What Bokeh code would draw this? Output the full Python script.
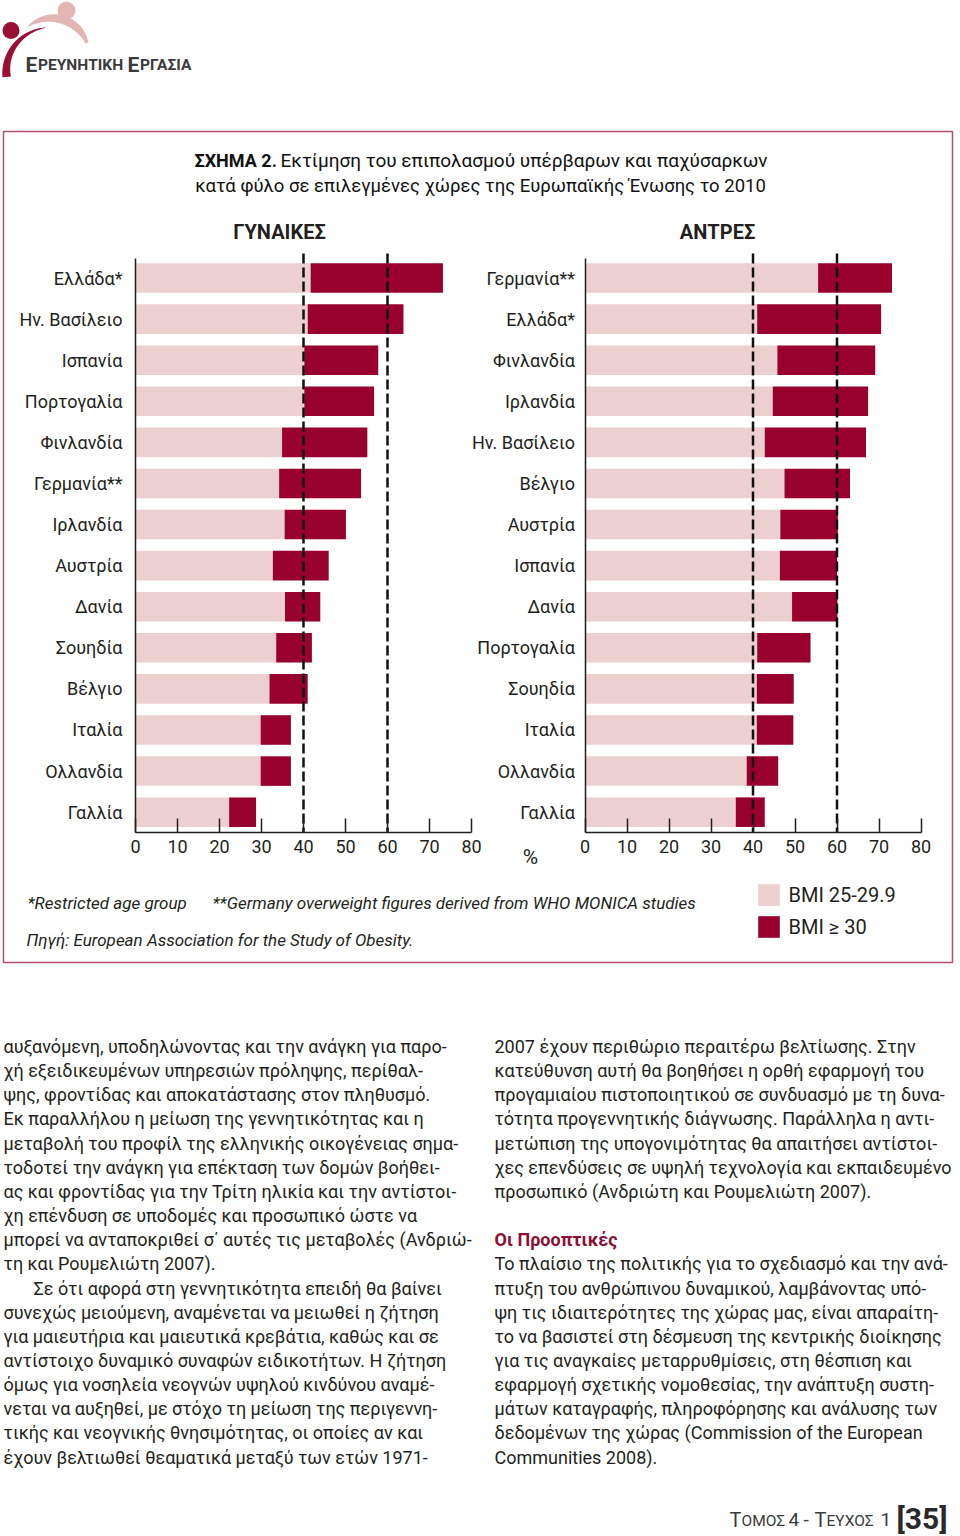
import numpy as np
from bokeh.plotting import figure
from bokeh.models import (Range1d, LinearAxis, FixedTicker, ColumnDataSource,
                          Legend, LegendItem)
from bokeh.core.properties import value
from bokeh.embed import file_html
from bokeh.resources import INLINE

# ---------------- data ----------------
women_countries = ["Ελλάδα*", "Ην. Βασίλειο", "Ισπανία", "Πορτογαλία", "Φινλανδία",
                   "Γερμανία**", "Ιρλανδία", "Αυστρία", "Δανία", "Σουηδία",
                   "Βέλγιο", "Ιταλία", "Ολλανδία", "Γαλλία"]
women_overweight = [41.7, 41.0, 40.2, 40.2, 34.9, 34.2, 35.5, 32.7, 35.6, 33.5, 31.9, 29.8, 29.8, 22.3]
women_obese = [31.5, 22.8, 17.6, 16.6, 20.3, 19.5, 14.6, 13.3, 8.4, 8.5, 9.1, 7.2, 7.2, 6.4]

men_countries = ["Γερμανία**", "Ελλάδα*", "Φινλανδία", "Ιρλανδία", "Ην. Βασίλειο",
                 "Βέλγιο", "Αυστρία", "Ισπανία", "Δανία", "Πορτογαλία",
                 "Σουηδία", "Ιταλία", "Ολλανδία", "Γαλλία"]
men_overweight = [55.5, 41.0, 45.8, 44.7, 42.8, 47.5, 46.5, 46.4, 49.3, 41.0, 40.9, 40.9, 38.5, 35.9]
men_obese = [17.6, 29.5, 23.3, 22.7, 24.1, 15.6, 13.7, 13.6, 10.8, 12.7, 8.8, 8.7, 7.5, 6.9]

x_ticks = [0, 10, 20, 30, 40, 50, 60, 70, 80]
ref_lines = [40, 60]
bmi_labels = ["BMI 25-29.9", "BMI \u2265 30"]
panel_titles = ["ΓΥΝΑΙΚΕΣ", "ΑΝΤΡΕΣ"]

title_bold = "ΣΧΗΜΑ 2."
title_line1 = "Εκτίμηση του επιπολασμού υπέρβαρων και παχύσαρκων"
title_line2 = "κατά φύλο σε επιλεγμένες χώρες της Ευρωπαϊκής Ένωσης το 2010"
note1 = "*Restricted age group"
note2 = "**Germany overweight figures derived from WHO MONICA studies"
source_note = "Πηγή: European Association for the Study of Obesity."

left_col = [
    "αυξανόμενη, υποδηλώνοντας και την ανάγκη για παρο-",
    "χή εξειδικευμένων υπηρεσιών πρόληψης, περίθαλ-",
    "ψης, φροντίδας και αποκατάστασης στον πληθυσμό.",
    "Εκ παραλλήλου η μείωση της γεννητικότητας και η",
    "μεταβολή του προφίλ της ελληνικής οικογένειας σημα-",
    "τοδοτεί την ανάγκη για επέκταση των δομών βοήθει-",
    "ας και φροντίδας για την Τρίτη ηλικία και την αντίστοι-",
    "χη επένδυση σε υποδομές και προσωπικό ώστε να",
    "μπορεί να ανταποκριθεί σ΄ αυτές τις μεταβολές (Ανδριώ-",
    "τη και Ρουμελιώτη 2007).",
    "Σε ότι αφορά στη γεννητικότητα επειδή θα βαίνει",
    "συνεχώς μειούμενη, αναμένεται να μειωθεί η ζήτηση",
    "για μαιευτήρια και μαιευτικά κρεβάτια, καθώς και σε",
    "αντίστοιχο δυναμικό συναφών ειδικοτήτων. Η ζήτηση",
    "όμως για νοσηλεία νεογνών υψηλού κινδύνου αναμέ-",
    "νεται να αυξηθεί, με στόχο τη μείωση της περιγεννη-",
    "τικής και νεογνικής θνησιμότητας, οι οποίες αν και",
    "έχουν βελτιωθεί θεαματικά μεταξύ των ετών 1971-",
]
right_col_a = [
    "2007 έχουν περιθώριο περαιτέρω βελτίωσης. Στην",
    "κατεύθυνση αυτή θα βοηθήσει η ορθή εφαρμογή του",
    "προγαμιαίου πιστοποιητικού σε συνδυασμό με τη δυνα-",
    "τότητα προγεννητικής διάγνωσης. Παράλληλα η αντι-",
    "μετώπιση της υπογονιμότητας θα απαιτήσει αντίστοι-",
    "χες επενδύσεις σε υψηλή τεχνολογία και εκπαιδευμένο",
    "προσωπικό (Ανδριώτη και Ρουμελιώτη 2007).",
]
right_heading = "Οι Προοπτικές"
right_col_b = [
    "Το πλαίσιο της πολιτικής για το σχεδιασμό και την ανά-",
    "πτυξη του ανθρώπινου δυναμικού, λαμβάνοντας υπό-",
    "ψη τις ιδιαιτερότητες της χώρας μας, είναι απαραίτη-",
    "το να βασιστεί στη δέσμευση της κεντρικής διοίκησης",
    "για τις αναγκαίες μεταρρυθμίσεις, στη θέσπιση και",
    "εφαρμογή σχετικής νομοθεσίας, την ανάπτυξη συστη-",
    "μάτων καταγραφής, πληροφόρησης και ανάλυσης των",
    "δεδομένων της χώρας (Commission of the European",
    "Communities 2008).",
]

# ---------------- style / layout ----------------
W, H = 960, 1536
PINK = "#ebd0cf"
CRIMSON = "#98002e"
INK = "#231f20"
BORDER = "#b5506a"
FONT_NAME = "Roboto"
FONT = value(FONT_NAME)
NARROW = value("'Liberation Sans Narrow', Roboto")

PX = 4.2            # pixels per percentage unit
W_X0, M_X0 = 135.0, 584.5
ROW0, ROW_STEP = 277.5, 41.09
AXIS_Y = 832

p = figure(width=W, height=H, x_range=Range1d(0, W), y_range=Range1d(H, 0),
           output_backend="svg", toolbar_location=None, min_border=0,
           x_axis_location=None, y_axis_location=None,
           outline_line_color=None, background_fill_color="white",
           border_fill_color="white")
p.grid.visible = False

p.extra_x_ranges = {
    "wx": Range1d(-W_X0 / PX, (W - W_X0) / PX),
    "mx": Range1d(-M_X0 / PX, (W - M_X0) / PX),
}
p.extra_y_ranges = {"rows": Range1d((H - ROW0) / ROW_STEP, -ROW0 / ROW_STEP)}

# ---------------- logo ----------------
def crescent(cx, cy, R, a0, a1, widths):
    a = np.radians(np.linspace(a0, a1, len(widths)))
    ox = cx + R * np.cos(a); oy = cy - R * np.sin(a)
    ix = cx + (R - widths) * np.cos(a); iy = cy - (R - widths) * np.sin(a)
    return list(np.concatenate([ox, ix[::-1]])), list(np.concatenate([oy, iy[::-1]]))

t = np.linspace(0, 1, 60)
px_, py_ = crescent(53.6, 48.75, 35, 139.5, 11, 8.5 * np.sin(np.pi * t * 0.92) ** 0.7)
p.patch(px_, py_, fill_color="#e2b7b3", line_color=None)
p.circle(x=[66], y=[10], radius=9, fill_color="#e2b7b3", line_color=None)
dx_, dy_ = crescent(47.7, 72.8, 45.9, 185, 92, 8.5 * (1 - t) ** 0.8)
p.patch(dx_, dy_, fill_color="#9b0f32", line_color=None)
p.circle(x=[10.5], y=[30], radius=8.5, fill_color="#9b0f32", line_color=None)

hdr = dict(text_color="#3a3a3a", text_font=FONT, text_baseline="alphabetic",
           text_font_style="bold")
p.text(x=[25, 127], y=[64, 64], text=["Ε", "Ε"], text_font_size="21px", **hdr)
p.text(x=[37.5, 139.5], y=[64, 64], text=["ΡΕΥΝΗΤΙΚΗ", "ΡΓΑΣΙΑ"], text_font_size="15.5px", **hdr)

# ---------------- figure box & titles ----------------
p.quad(left=[3], right=[952], top=[131], bottom=[962], fill_color=None,
       line_color=BORDER, line_width=1.5)
p.text(x=[194], y=[160], text=[title_bold], text_font=FONT, text_font_size="18px",
       text_font_style="bold", text_color="#111111", text_baseline="middle")
p.text(x=[280], y=[160], text=[title_line1], text_font=FONT, text_font_size="19px",
       text_color="#111111", text_baseline="middle")
p.text(x=[480], y=[185], text=[title_line2], text_font=FONT, text_font_size="18.5px",
       text_color="#111111", text_baseline="middle", text_align="center")
p.text(x=[279, 717], y=[231, 231], text=panel_titles, text_font=FONT,
       text_font_size="20px", text_color=INK, text_baseline="middle",
       text_align="center", text_font_style="bold")

# ---------------- bars ----------------
def panel(countries, ow, ob, xr, standoff):
    n = len(countries)
    src = ColumnDataSource(dict(
        y=list(range(n)), zero=[0] * n, ow=ow,
        tot=[a + b for a, b in zip(ow, ob)]))
    r1 = p.hbar(y="y", left="zero", right="ow", height=0.72, source=src,
                fill_color=PINK, line_color=None, x_range_name=xr, y_range_name="rows")
    r2 = p.hbar(y="y", left="ow", right="tot", height=0.72, source=src,
                fill_color=CRIMSON, line_color=None, x_range_name=xr, y_range_name="rows")
    top = (253 - ROW0) / ROW_STEP
    bot = (AXIS_Y - ROW0) / ROW_STEP
    p.segment(x0=ref_lines, x1=ref_lines, y0=[top] * len(ref_lines), y1=[bot] * len(ref_lines),
              x_range_name=xr, y_range_name="rows", line_color="#111111",
              line_width=2.5, line_dash="10 4")
    xa = LinearAxis(x_range_name=xr, fixed_location=AXIS_Y, bounds=(0, 80),
                    ticker=FixedTicker(ticks=x_ticks), major_tick_in=14, major_tick_out=0,
                    minor_tick_line_color=None, axis_line_color=INK, axis_line_width=1.5,
                    major_tick_line_color=INK, major_tick_line_width=1.5,
                    major_label_text_font=FONT_NAME, major_label_text_font_size="18px",
                    major_label_text_color=INK, major_label_standoff=7)
    p.add_layout(xa, "below")
    ya = LinearAxis(x_range_name=xr, y_range_name="rows", fixed_location=0,
                    bounds=((258 - ROW0) / ROW_STEP, bot),
                    ticker=FixedTicker(ticks=list(range(n))),
                    major_label_overrides={i: c for i, c in enumerate(countries)},
                    major_tick_in=0, major_tick_out=0, minor_tick_line_color=None,
                    axis_line_color=INK, axis_line_width=1.5,
                    major_label_text_font=FONT_NAME, major_label_text_font_size="18px",
                    major_label_text_color=INK, major_label_standoff=standoff)
    p.add_layout(ya, "left")
    return r1, r2

rw1, rw2 = panel(women_countries, women_overweight, women_obese, "wx", 13)
panel(men_countries, men_overweight, men_obese, "mx", 10)

p.text(x=[530], y=[856], text=["%"], text_font=FONT, text_font_size="21px",
       text_color=INK, text_baseline="middle", text_align="center")

# ---------------- notes & legend ----------------
p.text(x=[27, 212], y=[902, 902], text=[note1, note2], text_font=NARROW,
       text_font_size="17px", text_font_style="italic", text_color=INK,
       text_baseline="middle")
p.text(x=[26], y=[939], text=[source_note], text_font=NARROW,
       text_font_size="17px", text_font_style="italic", text_color=INK,
       text_baseline="middle")

legend = Legend(items=[LegendItem(label=bmi_labels[0], renderers=[rw1]),
                       LegendItem(label=bmi_labels[1], renderers=[rw2])],
                location=(754.5, H - 940.3), orientation="vertical",
                glyph_width=27, glyph_height=27, spacing=5, padding=0, margin=0,
                label_standoff=7, label_text_font=FONT_NAME, label_text_font_size="20px",
                label_text_color=INK, border_line_color=None, background_fill_alpha=0)
p.add_layout(legend)

# ---------------- body text ----------------
LINE = 24.15
body = dict(text_font=FONT, text_font_size="18px", text_color=INK, text_baseline="middle")
lx = [3] * len(left_col)
lx[10] = 33
p.text(x=lx, y=[1046 + i * LINE for i in range(len(left_col))], text=left_col, **body)
p.text(x=[494] * len(right_col_a), y=[1046 + i * LINE for i in range(len(right_col_a))],
       text=right_col_a, **body)
p.text(x=[494], y=[1046 + 8 * LINE], text=[right_heading], text_font=FONT,
       text_font_size="18px", text_font_style="bold", text_color="#8c1034",
       text_baseline="middle")
p.text(x=[494] * len(right_col_b), y=[1046 + (9 + i) * LINE for i in range(len(right_col_b))],
       text=right_col_b, **body)

# ---------------- page footer ----------------
ft = dict(text_color="#3a3a3a", text_font=FONT, text_baseline="middle")
p.text(x=[729, 814], y=[1519, 1519], text=["Τ", "Τ"], text_font_size="20px", **ft)
p.text(x=[741, 826], y=[1520.5, 1520.5], text=["ΟΜΟΣ", "ΕΥΧΟΣ"], text_font_size="15.5px", **ft)
p.text(x=[788, 803, 880], y=[1519, 1519, 1519], text=["4", "-", "1"], text_font_size="19px", **ft)
p.text(x=[896], y=[1518], text=["[35]"], text_font=FONT, text_font_size="30px",
       text_font_style="bold", text_color="#2a2a2a", text_baseline="middle")

open("out.html", "w").write(file_html(p, INLINE))
